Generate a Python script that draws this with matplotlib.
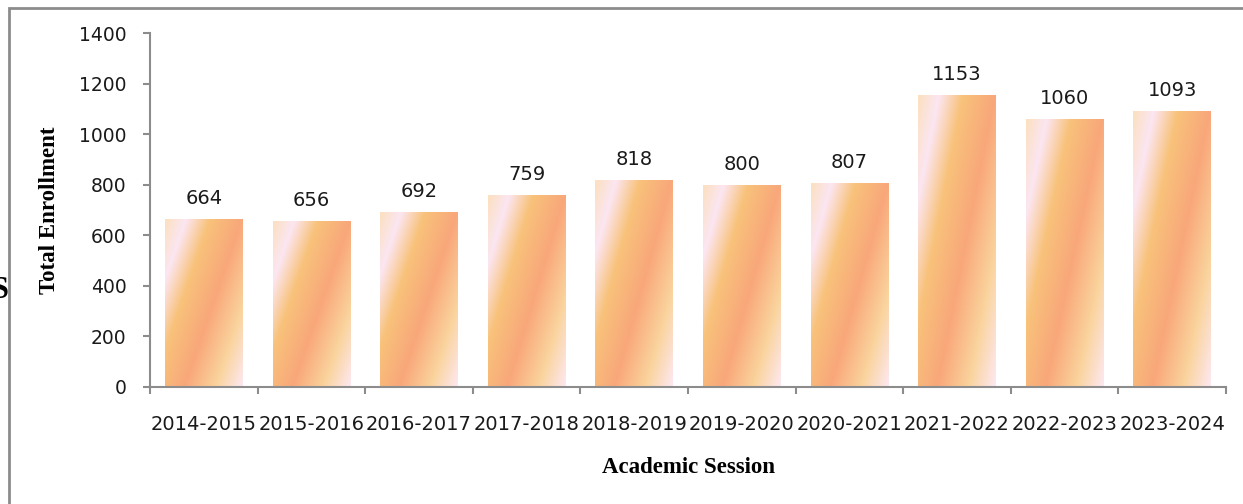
import numpy as np
import matplotlib
matplotlib.use("Agg")
import matplotlib.pyplot as plt
from matplotlib.colors import LinearSegmentedColormap
from matplotlib.patches import Rectangle

sessions = ["2014-2015", "2015-2016", "2016-2017", "2017-2018", "2018-2019",
            "2019-2020", "2020-2021", "2021-2022", "2022-2023", "2023-2024"]
enrollment = [664, 656, 692, 759, 818, 800, 807, 1153, 1060, 1093]
yticks = [0, 200, 400, 600, 800, 1000, 1200, 1400]

# diagonal "office" gradient for the bars
grad = LinearSegmentedColormap.from_list("sunset", [
    (0.00, "#fbe0c0"),
    (0.15, "#fce6f2"),
    (0.33, "#f8c27a"),
    (0.57, "#f9a77a"),
    (0.80, "#fad39c"),
    (1.00, "#fde8f0"),
])

fig = plt.figure(figsize=(12.43, 5.04), dpi=100)
ax = fig.add_axes([150/1243, 1-387/504, 1076/1243, 354/504])

x = np.arange(len(sessions))
bars = ax.bar(x, enrollment, width=0.72, facecolor="none", edgecolor="none")

nu, nv = 60, 200
u = np.linspace(0, 1, nu)[None, :]
v = np.linspace(0, 1, nv)[:, None]
t = (0.5*u + 0.375*v) / 0.875
for b in bars:
    x0 = b.get_x()
    im = ax.imshow(t, cmap=grad, vmin=0, vmax=1, origin="upper",
                   extent=(x0, x0 + b.get_width(), 0, b.get_height()),
                   aspect="auto", interpolation="bilinear", zorder=2)
    im.set_clip_path(b)

for xi, val in zip(x, enrollment):
    ax.annotate(str(val), (xi, val), xytext=(0, 8), textcoords="offset points",
                ha="center", va="bottom", fontsize=14, color="#1a1a1a")

ax.set_xlim(-0.5, len(sessions) - 0.5)
ax.set_ylim(0, 1400)
ax.set_yticks(yticks)
ax.set_xticks(x)
ax.set_xticklabels(sessions)
ax.set_xticks(np.arange(len(sessions) + 1) - 0.5, minor=True)

for s in ["top", "right"]:
    ax.spines[s].set_visible(False)
for s in ["left", "bottom"]:
    ax.spines[s].set_color("#8c8c8c")
    ax.spines[s].set_linewidth(1.5)

ax.tick_params(axis="x", which="major", length=0, pad=20, labelsize=14, labelcolor="#1a1a1a")
ax.tick_params(axis="x", which="minor", length=5, width=1.5, color="#8c8c8c")
ax.tick_params(axis="y", length=5, width=1.5, color="#8c8c8c", pad=12,
               labelsize=13.5, labelcolor="#1a1a1a")

ax.set_ylabel("Total Enrollment", fontfamily="Liberation Serif", fontweight="bold",
              fontsize=16.5)
ax.yaxis.set_label_coords(-90/1076, 0.5)
ax.set_xlabel("Academic Session", fontfamily="Liberation Serif", fontweight="bold",
              fontsize=16.5)
ax.xaxis.set_label_coords(538/1076, -70/354)

# outer chart frame (only top and left edges are inside the picture)
fig.patches.append(Rectangle((9/1243, -0.1), 1.2, 1 - 8/504 + 0.1,
                             transform=fig.transFigure, fill=False,
                             edgecolor="#8c8c8c", linewidth=2))
# clipped glyph from text beyond the left edge
fig.text(0.0, 1 - 291/504, "S", fontfamily="Liberation Serif", fontweight="bold",
         fontsize=22, ha="center", va="center")

fig.savefig("out.png", dpi=100)
